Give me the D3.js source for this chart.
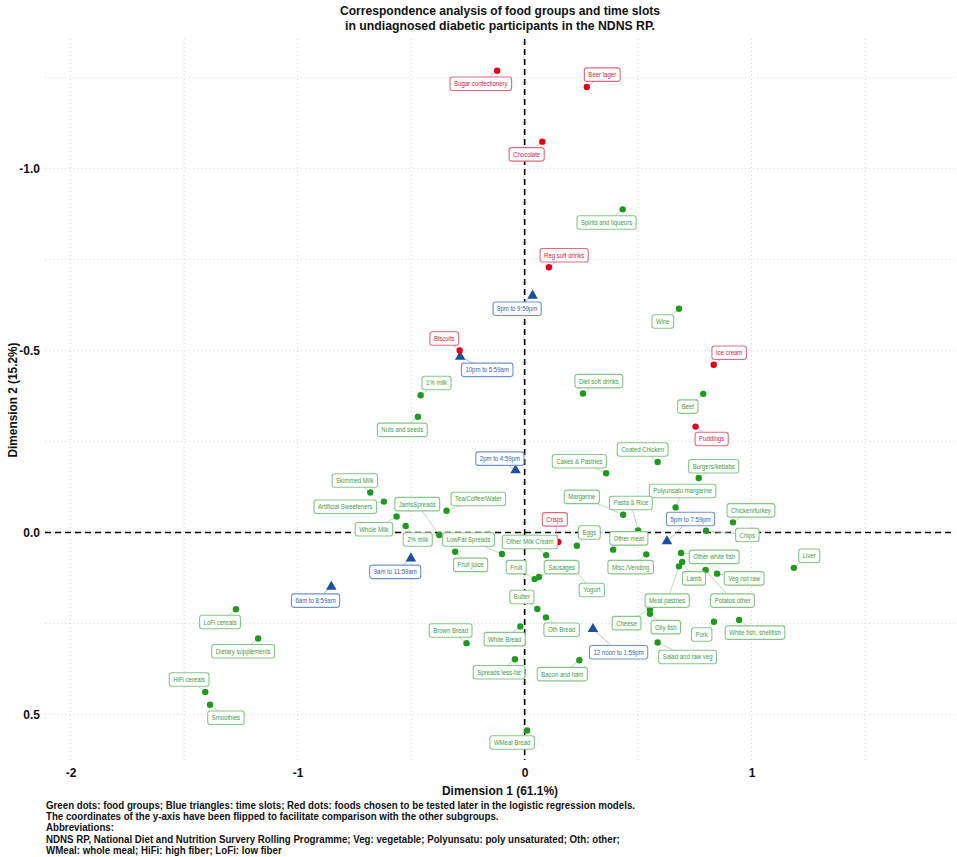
<!DOCTYPE html>
<html>
<head>
<meta charset="utf-8">
<script src="https://cdnjs.cloudflare.com/ajax/libs/d3/7.8.5/d3.min.js"></script>
<style>
  body { margin: 0; background: #fff; }
  text { font-family: "Liberation Sans", Arial, Helvetica, sans-serif; }
</style>
</head>
<body>
<div id="chart"></div>
<script>
// food groups (green dots)
var foodNames = ["Spirits and liqueurs", "Wine", "1% milk", "Nuts and seeds", "Diet soft drinks", "Beef",
    "Coated Chicken", "Cakes & Pastries", "Burgers/kebabs", "Skimmed Milk", "Artificial Sweeteners",
    "Tea/Coffee/Water", "JamsSpreads", "Margarine", "Polyunsatu margarine", "Pasta & Rice", "Chicken/turkey",
    "Whole Milk", "2% milk", "Chips", "Eggs", "Other meat", "LowFat Spreads", "Other Milk Cream", "Fruit juice",
    "Misc./Vending", "Other white fish", "Liver", "Lamb", "Meat pastries", "Potatos other", "Veg not raw",
    "Fruit", "Sausages", "Yogurt", "Butter", "Oth Bread", "Cheese", "Oily fish", "Pork", "White fish, shellfish",
    "Brown Bread", "White Bread", "Salad and raw veg", "Spreads less-fat", "Bacon and ham", "WMeal Bread",
    "LoFi cereals", "Dietary supplements", "HiFi cereals", "Smoothies"];
var foodDim1 = [0.432, 0.680, -0.458, -0.470, 0.257, 0.787, 0.586, 0.359, 0.767, -0.680, -0.620,
    -0.344, -0.376, 0.434, 0.665, 0.500, 0.918, -0.564, -0.524, 0.799, 0.230, 0.390, -0.100, 0.095, -0.306,
    0.536, 0.689, 1.186, 0.694, 0.680, 0.797, 0.848, 0.044, 0.063, 0.208, 0.056, 0.094, 0.552, 0.552, 0.834, 0.945,
    -0.256, -0.019, 0.586, -0.043, 0.241, 0.011, -1.272, -1.174, -1.407, -1.386];
var foodDim2 = [-0.888, -0.615, -0.377, -0.318, -0.382, -0.381, -0.194, -0.163, -0.150, -0.110, -0.085,
    -0.060, 0.007, -0.049, -0.069, -0.006, -0.028, -0.044, -0.018, -0.005, 0.036, 0.047, 0.059, 0.062, 0.053,
    0.060, 0.056, 0.097, 0.081, 0.093, 0.103, 0.113, 0.128, 0.122, 0.093, 0.210, 0.233, 0.210, 0.223, 0.245, 0.240,
    0.304, 0.258, 0.302, 0.348, 0.351, 0.544, 0.211, 0.291, 0.438, 0.473];
// where the repelled labels ended up, in the same dimension units
var foodLabelDim1 = [0.361, 0.609, -0.388, -0.539, 0.327, 0.719, 0.520, 0.241, 0.833, -0.748, -0.790,
    -0.204, -0.473, 0.252, 0.696, 0.468, 0.997, -0.664, -0.471, 0.981, 0.285, 0.459, -0.247, 0.023, -0.238,
    0.467, 0.835, 1.254, 0.746, 0.628, 0.916, 0.967, -0.037, 0.163, 0.296, -0.012, 0.163, 0.449, 0.622, 0.780, 1.015,
    -0.326, -0.088, 0.718, -0.113, 0.166, -0.055, -1.342, -1.240, -1.478, -1.316];
var foodLabelDim2 = [-0.852, -0.580, -0.411, -0.282, -0.416, -0.346, -0.228, -0.196, -0.182, -0.143, -0.071,
    -0.092, -0.078, -0.098, -0.114, -0.081, -0.061, -0.009, 0.019, 0.007, 0.000, 0.016, 0.019, 0.026, 0.089,
    0.095, 0.067, 0.064, 0.126, 0.187, 0.187, 0.126, 0.095, 0.095, 0.158, 0.177, 0.267, 0.249, 0.260, 0.280, 0.275,
    0.269, 0.293, 0.342, 0.384, 0.389, 0.577, 0.246, 0.326, 0.404, 0.509];

// foods tested later (red dots)
var testedNames = ["Sugar confectionery", "Beer lager", "Chocolate", "Reg soft drinks", "Biscuits",
    "Ice cream", "Puddings", "Crisps"];
var testedDim1 = [-0.121, 0.274, 0.078, 0.107, -0.286, 0.833, 0.753, 0.148];
var testedDim2 = [-1.269, -1.224, -1.074, -0.729, -0.500, -0.461, -0.291, 0.026];
var testedLabelDim1 = [-0.193, 0.342, 0.009, 0.174, -0.354, 0.901, 0.824, 0.133];
var testedLabelDim2 = [-1.233, -1.258, -1.039, -0.762, -0.533, -0.494, -0.257, -0.036];

// time slots (blue triangles)
var slotNames = ["8pm to 9:59pm", "10pm to 5:59am", "2pm to 4:59pm", "5pm to 7:59pm", "9am to 11:59am",
    "6am to 8:59am", "12 noon to 1:59pm"];
var slotDim1 = [0.035, -0.284, -0.040, 0.627, -0.501, -0.852, 0.301];
var slotDim2 = [-0.651, -0.483, -0.171, 0.024, 0.071, 0.149, 0.265];
var slotLabelDim1 = [-0.033, -0.165, -0.109, 0.731, -0.570, -0.921, 0.414];
var slotLabelDim2 = [-0.615, -0.447, -0.203, -0.037, 0.108, 0.187, 0.329];

var xTicks = [-2, -1, 0, 1];
var yTicks = [-1.0, -0.5, 0.0, 0.5];
var xGrid = [-2, -1.5, -1, -0.5, 0, 0.5, 1, 1.5];
var yGrid = [-1.25, -1, -0.75, -0.5, -0.25, 0, 0.25, 0.5];

var titleLines = ["Correspondence analysis of food groups and time slots",
    "in undiagnosed diabetic participants in the NDNS RP."];
var captionLines = [
    "Green dots: food groups; Blue triangles: time slots; Red dots: foods chosen to be tested later in the logistic regression models.",
    "The coordinates of the y-axis have been flipped to facilitate comparison with the other subgroups.",
    "Abbreviations:",
    "NDNS RP, National Diet and Nutrition Survery Rolling Programme; Veg: vegetable; Polyunsatu: poly unsaturated; Oth: other;",
    "WMeal: whole meal; HiFi: high fiber; LoFi: low fiber"];

var w = 957, h = 857;
var plotLeft = 45, plotRight = 955, plotTop = 39, plotBottom = 760;

var svg = d3.select("#chart").append("svg")
    .attr("width", w)
    .attr("height", h);

var x = d3.scaleLinear().domain([-2.113, 1.896]).range([plotLeft, plotRight]);
var y = d3.scaleLinear().domain([-1.356, 0.625]).range([plotTop, plotBottom]);

// squeeze text horizontally like the narrow font in the original
function fitText(sel, width, factor) {
    sel.each(function () {
        var real = this.getComputedTextLength();
        d3.select(this).attr("textLength", width || real * (factor || 0.86))
            .attr("lengthAdjust", "spacingAndGlyphs");
    });
}

// grid
svg.append("g").selectAll("line").data(xGrid).enter().append("line")
    .attr("x1", d => x(d)).attr("x2", d => x(d))
    .attr("y1", plotTop).attr("y2", plotBottom)
    .attr("stroke", "#d6d6d6").attr("stroke-width", 1).attr("stroke-dasharray", "1,3");
svg.append("g").selectAll("line").data(yGrid).enter().append("line")
    .attr("x1", plotLeft).attr("x2", plotRight)
    .attr("y1", d => y(d)).attr("y2", d => y(d))
    .attr("stroke", "#d6d6d6").attr("stroke-width", 1).attr("stroke-dasharray", "1,3");

// zero lines
svg.append("line")
    .attr("x1", plotLeft).attr("x2", plotRight).attr("y1", y(0)).attr("y2", y(0))
    .attr("stroke", "#000").attr("stroke-width", 1.6).attr("stroke-dasharray", "6,4");
svg.append("line")
    .attr("x1", x(0)).attr("x2", x(0)).attr("y1", plotTop).attr("y2", plotBottom)
    .attr("stroke", "#000").attr("stroke-width", 1.6).attr("stroke-dasharray", "6,4");

// axes
var xaxis = d3.axisBottom(x).tickValues(xTicks).tickSize(0).tickPadding(8).tickFormat(d => String(d));
var gx = svg.append("g").attr("transform", "translate(0," + plotBottom + ")").call(xaxis);
var yaxis = d3.axisLeft(y).tickValues(yTicks).tickSize(0).tickPadding(5).tickFormat(d => d.toFixed(1));
var gy = svg.append("g").attr("transform", "translate(" + plotLeft + ",0)").call(yaxis);
[gx, gy].forEach(function (g) {
    g.select(".domain").remove();
    g.selectAll("text").attr("font-size", 12).attr("font-weight", "bold").attr("fill", "#111")
        .style("font-family", "'Liberation Sans', Arial, sans-serif");
});

// build one list of all marks
var groups = [
    { names: foodNames, d1: foodDim1, d2: foodDim2, l1: foodLabelDim1, l2: foodLabelDim2,
      point: "#1f9a1f", text: "#3f9c3f", border: "#86c686", seg: "#a9d4a9", shape: "circle" },
    { names: slotNames, d1: slotDim1, d2: slotDim2, l1: slotLabelDim1, l2: slotLabelDim2,
      point: "#1c4f9e", text: "#3164ad", border: "#6f94cc", seg: "#9ab3da", shape: "triangle" },
    { names: testedNames, d1: testedDim1, d2: testedDim2, l1: testedLabelDim1, l2: testedLabelDim2,
      point: "#e2001a", text: "#d01c3c", border: "#e06a7c", seg: "#eda0aa", shape: "circle" }
];
var marks = [];
groups.forEach(function (g) {
    g.names.forEach(function (n, i) {
        marks.push({ name: n, d1: g.d1[i], d2: g.d2[i], l1: g.l1[i], l2: g.l2[i], g: g });
    });
});

var segLayer = svg.append("g");
var pointLayer = svg.append("g");
var labelLayer = svg.append("g");

// points
marks.forEach(function (m) {
    if (m.g.shape == "triangle") {
        pointLayer.append("path")
            .attr("d", d3.symbol().type(d3.symbolTriangle).size(48)())
            .attr("transform", "translate(" + x(m.d1) + "," + y(m.d2) + ")")
            .attr("fill", m.g.point);
    } else {
        pointLayer.append("circle")
            .attr("cx", x(m.d1)).attr("cy", y(m.d2)).attr("r", 3.2)
            .attr("fill", m.g.point);
    }
});

// labels with boxes and leader segments
var padX = 4, boxH = 13.5;
marks.forEach(function (m) {
    var cx = x(m.l1), cy = y(m.l2);
    var lab = labelLayer.append("g");
    var rect = lab.append("rect");
    var txt = lab.append("text")
        .attr("x", cx).attr("y", cy).attr("dy", "0.35em")
        .attr("text-anchor", "middle")
        .attr("font-size", 7)
        .attr("fill", m.g.text)
        .text(m.name);
    txt.call(fitText);
    var tw = +txt.attr("textLength");
    var bw = tw + padX * 2;
    rect.attr("x", cx - bw / 2).attr("y", cy - boxH / 2)
        .attr("width", bw).attr("height", boxH)
        .attr("rx", 2.5).attr("ry", 2.5)
        .attr("fill", "#fff")
        .attr("stroke", m.g.border).attr("stroke-width", 1.1);

    // segment from the point to the box edge
    var px = x(m.d1), py = y(m.d2);
    var vx = px - cx, vy = py - cy;
    var s = Math.min(Math.abs(vx) > 0 ? (bw / 2) / Math.abs(vx) : Infinity,
                     Math.abs(vy) > 0 ? (boxH / 2) / Math.abs(vy) : Infinity);
    if (s < 1) {
        var ex = cx + vx * s, ey = cy + vy * s;
        var len = Math.hypot(px - ex, py - ey);
        if (len > 2) {
            segLayer.append("line")
                .attr("x1", px).attr("y1", py).attr("x2", ex).attr("y2", ey)
                .attr("stroke", m.g.seg).attr("stroke-width", 0.8);
        }
    }
});

// title
svg.append("g").selectAll("text").data(titleLines).enter().append("text")
    .attr("x", 500).attr("y", (d, i) => 14.5 + i * 15)
    .attr("text-anchor", "middle")
    .attr("font-size", 12.5).attr("font-weight", "bold").attr("fill", "#111")
    .text(d => d)
    .each(function (d, i) { fitText(d3.select(this), [320, 310][i]); });

// axis titles
svg.append("text")
    .attr("x", 500).attr("y", 795)
    .attr("text-anchor", "middle")
    .attr("font-size", 13).attr("font-weight", "bold").attr("fill", "#111")
    .text("Dimension 1 (61.1%)")
    .call(fitText, 116);
svg.append("text")
    .attr("transform", "translate(17,400) rotate(-90)")
    .attr("text-anchor", "middle")
    .attr("font-size", 13).attr("font-weight", "bold").attr("fill", "#111")
    .text("Dimension 2 (15.2%)")
    .call(fitText, 115);

// caption: same squeeze for every line, taken from the first one
var capText = svg.append("g").selectAll("text").data(captionLines).enter().append("text")
    .attr("x", 46).attr("y", (d, i) => 809 + i * 11.2)
    .attr("font-size", 10).attr("font-weight", "bold").attr("fill", "#111")
    .text(d => d);
var capFactor = 589 / capText.nodes()[0].getComputedTextLength();
capText.each(function () { fitText(d3.select(this), null, capFactor); });
</script>
</body>
</html>
